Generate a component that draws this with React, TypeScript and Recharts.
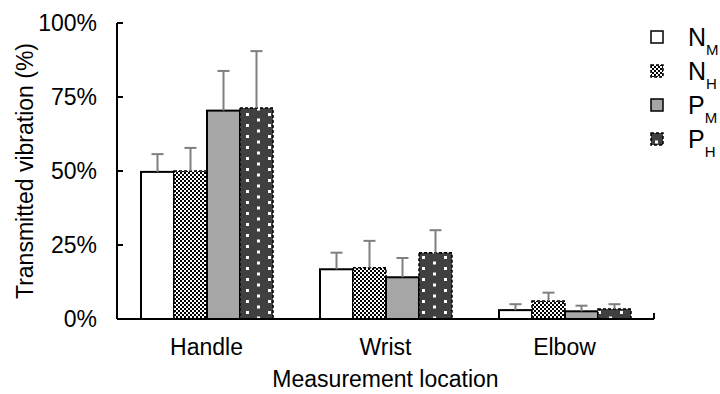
import { BarChart, Bar, XAxis, YAxis } from 'recharts'

// Transmitted vibration (%) by measurement location, mean and upper SD
const locations = ['Handle', 'Wrist', 'Elbow']
const nM = [49.7, 16.8, 3.0]
const nMErr = [6.0, 5.6, 2.0]
const nH = [50.0, 17.3, 6.1]
const nHErr = [7.8, 9.1, 2.8]
const pM = [70.4, 14.1, 2.6]
const pMErr = [13.4, 6.5, 1.9]
const pH = [71.3, 22.4, 3.4]
const pHErr = [19.2, 7.6, 1.6]
const yTicks = [0, 25, 50, 75, 100]

const data = locations.map((loc, i) => ({
  loc,
  nM: nM[i], nMErr: nMErr[i],
  nH: nH[i], nHErr: nHErr[i],
  pM: pM[i], pMErr: pMErr[i],
  pH: pH[i], pHErr: pHErr[i],
}))

const FONT = '"Liberation Sans", Arial, sans-serif'
const FS = 23

const series = [
  { key: 'nM', main: 'N', sub: 'M', fill: '#ffffff', dashed: false },
  { key: 'nH', main: 'N', sub: 'H', fill: 'url(#checker)', dashed: true },
  { key: 'pM', main: 'P', sub: 'M', fill: '#a6a6a6', dashed: false },
  { key: 'pH', main: 'P', sub: 'H', fill: 'url(#dots)', dashed: true },
]

// bar rect plus an upward-only whisker, sized from the bar's own px/unit
const barWithError = (key: string, fill: string, dashed: boolean) => (props: any) => {
  const { x, y, width, height, payload } = props
  const v = payload[key]
  const perUnit = v ? height / v : 0
  const top = y - payload[key + 'Err'] * perUnit
  const cx = x + width / 2
  return (
    <g>
      <rect x={x} y={y} width={width} height={height} fill={fill}
            stroke="#000" strokeWidth={dashed ? 1.5 : 2}
            strokeDasharray={dashed ? '3 2' : undefined} />
      <line x1={cx} x2={cx} y1={y} y2={top} stroke="#7f7f7f" strokeWidth={2} />
      <line x1={cx - 6} x2={cx + 6} y1={top} y2={top} stroke="#7f7f7f" strokeWidth={2} />
    </g>
  )
}

const YTick = (p: any) => (
  <g>
    <line x1={p.x + 20} x2={p.x + 26} y1={p.y} y2={p.y} stroke="#000" strokeWidth={2} />
    <text x={p.x} y={p.y} dy="0.35em" textAnchor="end" fontSize={FS}
          fontFamily={FONT} fill="#000">{p.payload.value}%</text>
  </g>
)

// 2px cells on a 4x4 grid, black where the cell is listed
const checkerCells = [[0,0],[2,0],[3,1],[0,2],[2,2],[1,3],[1,1],[3,3]]

function Patterns() {
  return (
    <svg width={0} height={0} style={{position:'absolute'}}>
      <defs>
        <pattern id="checker" width={8} height={8} patternUnits="userSpaceOnUse">
          <rect width={8} height={8} fill="#fff" />
          {checkerCells.map(([cx, cy], i) => (
            <rect key={i} x={cx * 2} y={cy * 2} width={2} height={2} fill="#000" />
          ))}
        </pattern>
        <pattern id="dots" width={22} height={11} patternUnits="userSpaceOnUse">
          <rect width={22} height={11} fill="#404040" />
          <rect x={4} y={3} width={3} height={3} fill="#fff" />
          <rect x={15} y={8.5} width={3} height={3} fill="#fff" />
          <rect x={15} y={-2.5} width={3} height={3} fill="#fff" />
        </pattern>
      </defs>
    </svg>
  )
}

function SeriesLegend() {
  return (
    <svg width={80} height={170} style={{position:'absolute', left:640, top:0}}>
      {series.map((s, i) => {
        const cy = 37 + i * 34
        return (
          <g key={s.key}>
            <rect x={11} y={cy - 6} width={12} height={12} fill={s.fill}
                  stroke="#000" strokeWidth={1.5}
                  strokeDasharray={s.dashed ? '3 2' : undefined} />
            <text x={48} y={cy + 9} fontSize={25} fontFamily={FONT} fill="#000">
              {s.main}
              <tspan fontSize={15} dy={9}>{s.sub}</tspan>
            </text>
          </g>
        )
      })}
    </svg>
  )
}

export default function App() {
  return (
    <div style={{position:'absolute', left:0, top:0, width:720, height:394, background:'#fff'}}>
      <Patterns />
      <BarChart width={720} height={394} data={data}
                margin={{top:23, right:66, bottom:0, left:0}}
                barCategoryGap={24} barGap={0}>
        <XAxis dataKey="loc" height={75}
               axisLine={{stroke:'#000', strokeWidth:2}} tickLine={false}
               tickSize={6} tickMargin={14}
               tick={{fill:'#000', fontSize:FS, fontFamily:FONT}}
               label={({viewBox}: any) => (
                 <g>
                   <line x1={viewBox.x + viewBox.width} x2={viewBox.x + viewBox.width}
                         y1={viewBox.y} y2={viewBox.y - 6} stroke="#000" strokeWidth={2} />
                   <text x={viewBox.x + viewBox.width / 2} y={387} textAnchor="middle"
                         fontSize={FS} fontFamily={FONT} fill="#000">Measurement location</text>
                 </g>
               )} />
        <YAxis width={117} domain={[0, 100]} ticks={yTicks} interval={0}
               axisLine={{stroke:'#000', strokeWidth:2}} tickLine={false}
               tickSize={6} tickMargin={14} tick={YTick}
               label={({viewBox}: any) => {
                 const cx = 33, cy = viewBox.y + viewBox.height / 2
                 return (
                   <text x={cx} y={cy} transform={`rotate(-90 ${cx} ${cy})`}
                         textAnchor="middle" fontSize={FS} fontFamily={FONT}
                         fill="#000">Transmitted vibration (%)</text>
                 )
               }} />
        {series.map(s => (
          <Bar key={s.key} dataKey={s.key} isAnimationActive={false}
               shape={barWithError(s.key, s.fill, s.dashed)} />
        ))}
      </BarChart>
      <SeriesLegend />
    </div>
  )
}
